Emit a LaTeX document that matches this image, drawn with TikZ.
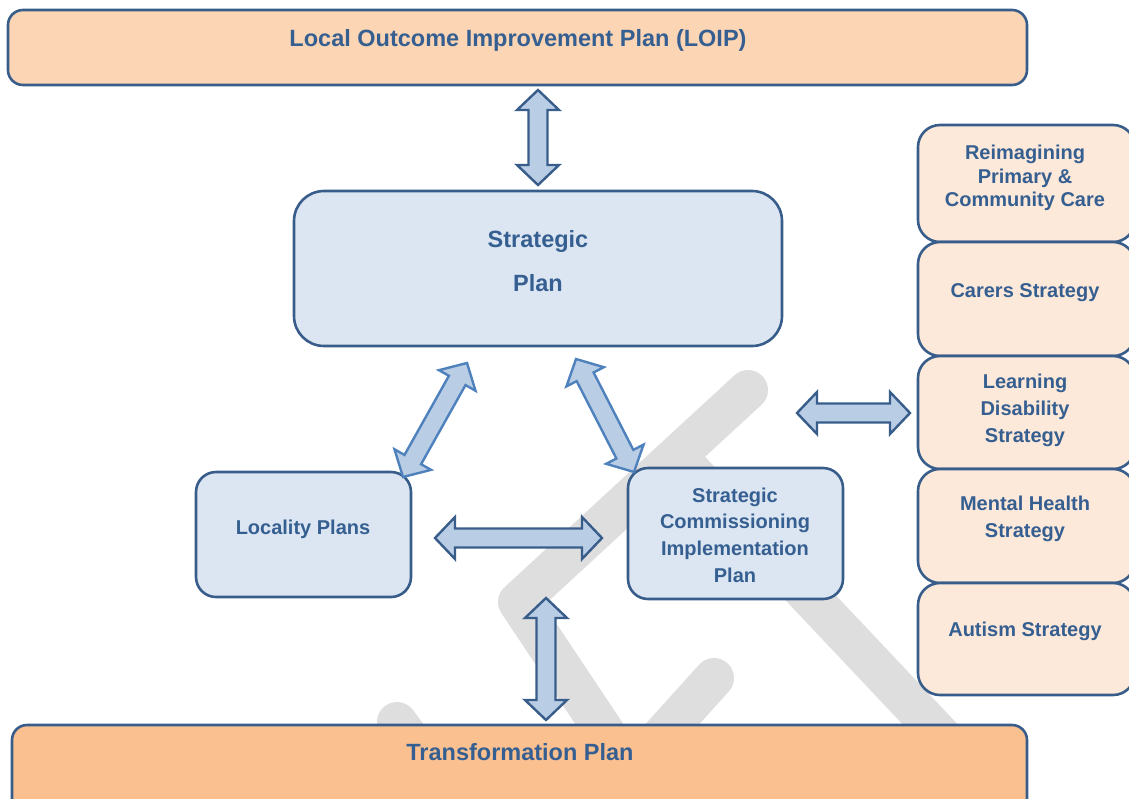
\documentclass[tikz,border=0pt]{standalone}
\usepackage{fontspec}
\setmainfont{Liberation Sans}
\usetikzlibrary{calc}
\definecolor{bordblue}{HTML}{385D8A}
\definecolor{txtblue}{HTML}{365F91}
\definecolor{paleblue}{HTML}{DCE6F2}
\definecolor{arrowblue}{HTML}{B9CDE5}
\definecolor{midblue}{HTML}{4F81BD}
\definecolor{peach}{HTML}{FCD5B5}
\definecolor{palepeach}{HTML}{FDE9D9}
\definecolor{deeppeach}{HTML}{FAC090}
\definecolor{wmgrey}{HTML}{DEDEDE}

\tikzset{
  planbox/.style={draw=bordblue, line width=2.6pt, inner sep=0pt},
  bigtext/.style={text=txtblue, font=\fontsize{23.5}{44}\selectfont\bfseries, align=center},
  plantext/.style={text=txtblue, font=\fontsize{20}{26.7}\selectfont\bfseries, align=center},
  blockarrow/.style={draw=bordblue, fill=arrowblue, line width=2.4pt, line join=miter},
  watermark/.style={draw=wmgrey, line width=40pt, line cap=round, line join=round},
}

% double block arrow between two named points
\newcommand{\dblarrow}[3][]{%
  \path let \p1=($(#3)-(#2)$) in
    \pgfextra{\pgfmathsetmacro\arrang{atan2(\y1,\x1)}%
      \pgfmathsetmacro\arrlen{veclen(\x1,\y1)}%
      \global\let\arrang\arrang \global\let\arrlen\arrlen};
  \draw[blockarrow,#1,shift={(#2)},rotate=\arrang]
    (0pt,0pt) -- (20pt,21pt) -- (20pt,9.5pt) -- ({(\arrlen-20)*1pt},9.5pt)
    -- ({(\arrlen-20)*1pt},21pt) -- ({\arrlen*1pt},0pt)
    -- ({(\arrlen-20)*1pt},-21pt) -- ({(\arrlen-20)*1pt},-9.5pt)
    -- (20pt,-9.5pt) -- (20pt,-21pt) -- cycle;
}

\begin{document}
\begin{tikzpicture}[x=1pt,y=-1pt]
  \useasboundingbox (0,0) rectangle (1129,798);
  \clip (0,0) rectangle (1129,798);

  % watermark
  \draw[watermark] (748,390) -- (518,602) -- (640,785);
  \draw[watermark] (690,470) -- (978,775);
  \draw[watermark] (714,678) -- (640,760);
  \draw[watermark] (397,722) -- (440,780);

  % boxes
  \node[planbox, fill=peach, rounded corners=15pt, minimum width=1019pt, minimum height=75pt] (loip) at (517.5,47.5) {};
  \node[planbox, fill=paleblue, rounded corners=30pt, minimum width=488pt, minimum height=155pt] (sp) at (538,268.5) {};
  \node[planbox, fill=paleblue, rounded corners=20pt, minimum width=215pt, minimum height=125pt] (loc) at (303.5,534.5) {};
  \node[planbox, fill=paleblue, rounded corners=20pt, minimum width=215pt, minimum height=131pt] (scip) at (735.5,533.5) {};
  \node[planbox, fill=deeppeach, rounded corners=15pt, minimum width=1015pt, minimum height=90pt] (trans) at (519.5,770) {};

  \node[planbox, fill=palepeach, rounded corners=22pt, minimum width=217pt, minimum height=117pt] (reim) at (1026.5,183.5) {};
  \node[planbox, fill=palepeach, rounded corners=22pt, minimum width=217pt, minimum height=114pt] (carer) at (1026.5,299) {};
  \node[planbox, fill=palepeach, rounded corners=22pt, minimum width=217pt, minimum height=113pt] (ld) at (1026.5,412.5) {};
  \node[planbox, fill=palepeach, rounded corners=22pt, minimum width=217pt, minimum height=114pt] (mh) at (1026.5,526) {};
  \node[planbox, fill=palepeach, rounded corners=22pt, minimum width=217pt, minimum height=112pt] (aut) at (1026.5,639) {};

  % texts
  \node[bigtext] (loip-t) at (518,40) {Local Outcome Improvement Plan (LOIP)};
  \node[bigtext] (sp-t) at (538,261) {Strategic\\Plan};
  \node[plantext] (loc-t) at (303,529) {Locality Plans};
  \node[plantext] (scip-t) at (735,535) {Strategic\\Commissioning\\Implementation\\Plan};
  \node[bigtext] (trans-t) at (520,752) {Transformation Plan};
  \node[plantext, font=\fontsize{20}{23.5}\selectfont\bfseries] (reim-t) at (1025,178) {Reimagining\\Primary \&\\Community Care};
  \node[plantext] (carer-t) at (1025,293) {Carers Strategy};
  \node[plantext, font=\fontsize{20}{27}\selectfont\bfseries] (ld-t) at (1025,410) {Learning\\Disability\\Strategy};
  \node[plantext, font=\fontsize{20}{27}\selectfont\bfseries] (mh-t) at (1025,519) {Mental Health\\Strategy};
  \node[plantext] (aut-t) at (1025,631) {Autism Strategy};

  % arrow ends
  \coordinate (a1) at (538,90);   \coordinate (a2) at (538,185);
  \coordinate (b1) at (403,477);  \coordinate (b2) at (467,363);
  \coordinate (c1) at (576,359);  \coordinate (c2) at (634,472);
  \coordinate (d1) at (435,538);  \coordinate (d2) at (602,538);
  \coordinate (e1) at (797,413);  \coordinate (e2) at (910,413);
  \coordinate (f1) at (546,598);  \coordinate (f2) at (546,720);

  % arrows
  \dblarrow{a1}{a2}
  \dblarrow[draw=midblue]{b1}{b2}
  \dblarrow[draw=midblue]{c1}{c2}
  \dblarrow{d1}{d2}
  \dblarrow{e1}{e2}
  \dblarrow{f1}{f2}
\end{tikzpicture}
\end{document}
